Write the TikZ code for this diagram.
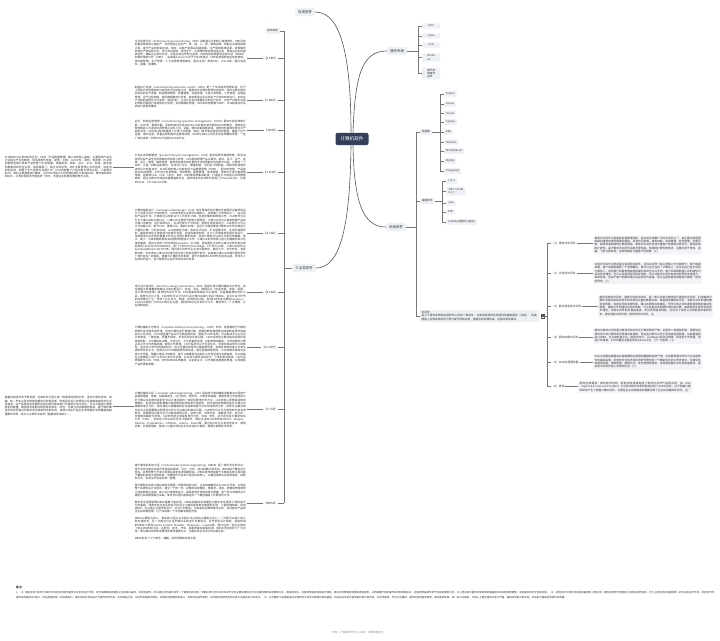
\documentclass[tikz,border=0pt]{standalone}
\usepackage{fontspec}
\setmainfont{Noto Sans CJK SC}
\XeTeXlinebreaklocale "zh"
\XeTeXlinebreakskip=0pt plus 0.3pt
\definecolor{rootc}{HTML}{34405A}
\definecolor{boxc}{HTML}{EDF0F4}
\definecolor{parac}{HTML}{F2F4F7}
\definecolor{linec}{HTML}{555555}
\definecolor{txtc}{HTML}{333333}
\newcommand\fpara{\fontsize{2.7}{3.3}\selectfont\sloppy}
\newcommand\pgap{\par\vspace{3.3pt}}
\tikzset{
  conn/.style={draw=linec, line width=0.6pt},
  brk/.style={draw=linec!80, line width=0.45pt},
  rootbox/.style={fill=rootc, text=white, rounded corners=2pt, inner xsep=5pt, inner ysep=4pt, font=\fontsize{4.6}{5}\selectfont},
  topic/.style={fill=boxc, text=txtc, rounded corners=1.5pt, inner xsep=3pt, inner ysep=2.6pt, font=\fontsize{3.5}{4}\selectfont},
  item/.style={fill=boxc, text=txtc, rounded corners=1pt, inner xsep=2pt, inner ysep=1.6pt, font=\fontsize{2.6}{3.1}\selectfont, align=left, anchor=west},
  tag/.style={text=txtc, inner sep=0.6pt, font=\fontsize{2.8}{3.2}\selectfont},
  para/.style={text=txtc, inner sep=1pt, font=\fpara, align=justify},
  mpara/.style={para, fill=parac, rounded corners=1pt, inner sep=1.5pt},
}
\begin{document}
\begin{tikzpicture}[x=1pt,y=-1pt]
\fill[white] (0,0) rectangle (720,640);
\useasboundingbox (0,0) rectangle (720,640);

% ---------- root and main topics ----------
\node[rootbox] (root) at (352,139) {计算机软件};
\node[topic] (app) at (305,12) {应用软件};
\node[topic] (os) at (397,51) {操作系统};
\node[topic] (sys) at (396,227) {系统软件};
\node[topic] (ind) at (304,268) {工业类软件};

\draw[conn] ([xshift=-1pt]root.north) .. controls (351,60) and (342,12) .. (app.east);
\draw[conn] ([xshift=1pt]root.north) .. controls (355,75) and (362,51) .. (os.west);
\draw[conn] ([xshift=1pt]root.south) .. controls (354,200) and (362,227) .. (sys.west);
\draw[conn] ([xshift=-1pt]root.south) .. controls (350,235) and (338,268) .. (ind.east);

% ---------- operating systems ----------
\node[item, minimum width=18pt] (dos) at (422,26) {DOS};
\node[item, minimum width=18pt] (linux) at (422,36) {Linux};
\node[item, minimum width=18pt] (unix) at (422,45) {Unix};
\node[item, minimum width=18pt] (win) at (422,57.5) {Windo\\ws};
\node[item, minimum width=18pt] (gc) at (422,73.5) {国产常\\用操作\\系统};
\coordinate (osb) at (418,51);
\draw[brk] (os.east) -- (osb);
\draw[brk] (osb |- dos) -- (osb |- gc);
\foreach \n in {dos,linux,unix,win,gc} \draw[brk] (\n.west) -- (\n.west -| osb);

% ---------- system software ----------
\node[item] (db) at (420,132) {数据库};
\node[item] (prog) at (420,201) {编程软件};
\node[mpara, anchor=west, text width=116pt, fill=boxc, align=left] (mw) at (420,316) {中间件\\是介于操作系统和应用软件之间的一类软件，它使用系统软件所提供的基础服务（功能），衔接网络上应用系统的各个部分或不同的应用，能够达到资源共享、功能共享的目的。};
\coordinate (sysb) at (416,227);
\draw[brk] (sys.east) -- (sysb);
\draw[brk] (sysb |- db) -- (sysb |- mw);
\foreach \n in {db,prog,mw} \draw[brk] (\n.west) -- (\n.west -| sysb);

% database items
\node[item] (d1) at (444,94) {Foxpro};
\node[item] (d2) at (444,104) {Access};
\node[item] (d3) at (444,113) {Oracle};
\node[item] (d4) at (444,122) {Sybase};
\node[item] (d5) at (444,132) {DB2};
\node[item] (d6) at (444,142) {Informix};
\node[item] (d7) at (444,151) {MS SqlServer};
\node[item] (d8) at (444,161) {MySQL};
\node[item] (d9) at (444,171) {Postgresql};
\coordinate (dbb) at (440,132);
\draw[brk] (db.east) -- (dbb);
\draw[brk] (dbb |- d1) -- (dbb |- d9);
\foreach \n in {d1,d2,d3,d4,d5,d6,d7,d8,d9} \draw[brk] (\n.west) -- (\n.west -| dbb);

% programming items
\node[item] (p1) at (446,181) {C/C++};
\node[item] (p2) at (446,191) {.NET（C\# VB\\C++）};
\node[item] (p3) at (446,203) {Java};
\node[item] (p4) at (446,212) {PHP};
\node[item] (p5) at (446,222) {LabView(图形化G语言)};
\coordinate (pb) at (442,201);
\draw[brk] (prog.east) -- (pb);
\draw[brk] (pb |- p1) -- (pb |- p5);
\foreach \n in {p1,p2,p3,p4,p5} \draw[brk] (\n.west) -- (\n.west -| pb);

% middleware
\node[draw=linec, line width=0.3pt, minimum width=3pt, minimum height=3.6pt, inner sep=0pt] (mwicon) at (542.5,316) {};
\draw[linec, line width=0.2pt] ([xshift=0.6pt,yshift=-0.8pt]mwicon.north west) -- ([xshift=-0.6pt,yshift=-0.8pt]mwicon.north east)
  ([xshift=0.6pt]mwicon.west) -- ([xshift=-0.6pt]mwicon.east);
\coordinate (mwb) at (547,316);
\draw[brk] (mwicon.east) -- (mwb);
\node[tag, anchor=west] (m1) at (551,243) {（1）事务式中间件};
\node[tag, anchor=west] (m2) at (551,273) {（2）过程式中间件};
\node[tag, anchor=west] (m3) at (551,306) {（3）面向消息的中间件};
\node[tag, anchor=west] (m4) at (551,337) {（4）面向对象中间件};
\node[tag, anchor=west] (m5) at (551,362) {（5）Web应用服务器};
\node[tag, anchor=west] (m6) at (551,386) {（6）其他};
\draw[brk] (mwb |- m1) -- (mwb |- m6);
\foreach \n in {m1,m2,m3,m4,m5,m6} \draw[brk] (\n.west) -- (\n.west -| mwb);

\node[mpara, anchor=west, text width=106pt] (m1p) at (593,245) {事务式中间件又称事务处理管理程序，是当前应用最广泛的中间件之一，其主要功能是提供联机事务处理所需要的通信、并发访问控制、事务控制、资源管理、安全管理、负载平衡、故障恢复和其他必要的服务。事务式中间件支持大量客户进程的并发访问，具有极强的扩展性。由于事务式中间件具有可靠性高、极强的扩展性等特点，主要应用于电信、金融、飞机订票系统、证券等拥有大量客户的领域。[1]};
\node[mpara, anchor=west, text width=106pt] (m2p) at (593,273) {过程式中间件又称远程过程调用中间件。过程中间件一般从逻辑上分为两部分：客户和服务器。客户和服务器是一个逻辑概念，既可以运行在同一计算机上，也可以运行在不同的计算机上，甚至客户和服务器底层的操作系统也可以不同。客户机和服务器之间的通信可采用同步通信，也可以采用线程式异步调用。所以过程式中间件有较好的异构支持能力，简单易用，但由于客户和服务器之间采用访问连接，所以在易剪裁性和容错方面有一定的局限性。[1]};
\node[mpara, anchor=west, text width=112pt] (m3p) at (598,306) {面向消息的中间件，简称为消息中间件，是一类以消息为载体进行通信的中间件，利用高效可靠的消息机制来实现不同应用间大量的数据交换。按其通信模型的不同，消息中间件的通信模型有两类：消息队列和消息传递。通过这两种消息模型，不同应用之间的通信和网络的复杂性脱离，摆脱对不同通信协议的依赖，可以在复杂的网络环境中高可靠、高效率地实现安全的异步通信。消息中间件的非直接连接，支持多种通信规程，达到多个系统之间的数据共享和同步。面向消息中间件是一类常用的中间件。[1]};
\node[mpara, anchor=west, text width=106pt] (m4p) at (593,336) {面向对象的中间件是对象技术和分布式计算发展的产物，它提供一种通信机制，透明地在异构的分布计算环境中传递对象请求，而这些对象可以位于本地或远程机器。功能最强的是CORBA，可以跨任意平台，但是太庞大；JavaBeans较灵活简单，很适合于浏览器，但运行效率差；DCOM模型主要适合Windows平台，已广泛使用。[1]};
\node[mpara, anchor=west, text width=106pt] (m5p) at (593,362) {Web应用服务器是Web服务器和应用服务器相结合的产物。应用服务器中间件可以说是软件的基础设施，利用构件化技术将应用软件整合到一个确定的协同工作环境中，并提供多种通信机制、事务管理、数据访问、安全管理等服务。应用服务器中间件发展速度快，是目前中间件市场上竞争的热点。[1]};
\node[mpara, anchor=west, text width=111pt] (m6p) at (578,387) {新的应用需求、新的技术创新、新的应用领域促成了新的中间件产品的出现。如：ASP（Application Service Provider）平台和中间件技术的结合出现了ASP中间件，对于网格计算的研究产生了网格计算中间件，为满足企业应用集成的需要出现了企业应用集成中间件。[1]};
\foreach \n in {m1,m2,m3,m4,m5,m6} \draw[brk] (\n.east) -- (\n.east -| \n p.west);

% ---------- industrial software (left) ----------
\node[item, anchor=east] (ios) at (280,31) {操作系统};
\node[tag, anchor=east] (erp) at (278,58) {【1.ERP】};
\node[tag, anchor=east] (mes) at (278,100) {【2.MES】};
\node[tag, anchor=east] (mom) at (278,130) {【MOM】};
\node[tag, anchor=east] (plm) at (278,172) {【3.PLM】};
\node[tag, anchor=east] (cad) at (278,233) {【4.CAD】};
\node[tag, anchor=east] (eda) at (278,292) {【5.EDA】};
\node[tag, anchor=east] (capp) at (278,347) {【6.CAPP】};
\node[tag, anchor=east] (cae) at (278,409) {【7.CAE】};
\node[tag, anchor=east] (mbse) at (278,503) {【MBSE】};
\coordinate (lb) at (284,268);
\draw[brk, line width=0.7pt] (ind.west) -- (lb);
\draw[brk, line width=0.7pt] (lb |- ios) -- (lb |- mbse);
\foreach \n in {ios,erp,mes,mom,plm,cad,eda,capp,cae,mbse} \draw[brk] (\n.east) -- (\n.east -| lb);

\node[para, anchor=east, text width=111pt] (erpP) at (247,53) {企业资源计划（enterprise resource planning，ERP）是制造企业的核心管理软件。ERP系统的基本思想是以销定产，协同管控企业的产、供、销、人、财、物等资源，帮助企业按照销售订单，基于产品的制造BOM、库存、设备产能和采购提前期、生产提前期等因素，来准确地安排生产和采购计划，进行及时采购、及时生产，从而降低库存和资金占用，帮助企业实现高效运作，确保企业按时交货，实现业务运作的可追溯。ERP的前身是制造资源计划（MRPII）和物料需求计划（MRP），由美国Gartner公司于1990年提出。ERP系统通常包括财务管理、供应链管理、生产管理、人力资源管理等模块，国际主流厂商有SAP、Oracle等，国内有用友、金蝶、浪潮等。};
\node[para, anchor=east, text width=111pt] (mesP) at (247,97) {制造执行系统（manufacturing execution system，MES）是一个车间级的管理系统，位于上层的计划管理系统与底层的工业控制之间，是面向车间层的管理信息系统。MES主要功能包括车间的生产调度、制造数据管理、质量管理、设备管理、工具工装管理、人员管理、在制品管理、生产过程控制、底层数据集成分析等，能够帮助企业实现生产计划的有效执行，实现生产过程的透明化与可追溯。通过MES，企业可以实时掌握车间的生产状况，对生产过程中出现的异常问题进行快速响应与处理，实现精细化管理。MES的实施需要与ERP、PLM和自动化系统进行紧密的集成。};
\node[para, anchor=east, text width=111pt] (momP) at (247,130) {此外，制造运营管理（manufacturing operation management，MOM）是MES的延伸和扩展。2000年，美国仪器、系统和自动化协会在ISA-95标准中首次提出MOM的概念，将制造运营管理定义为通过协调管理企业的人员、设备、物料和能源等资源，把原材料或零件转化为产品的活动。MOM在MES的基础上扩展了对质量、库存、维护等运营活动的管理，覆盖了生产运营、维护运营、质量运营和库存运营等领域。MOM与MES之间并不存在明确的界限，一些厂商也将新一代的MES产品称为MOM平台。};
\node[para, anchor=east, text width=111pt] (plmP) at (247,169) {产品生命周期管理（product lifecycle management，PLM）是实现研发数据管理、研发流程优化和产品全生命周期协同的核心软件。PLM是指管理产品从需求、规划、设计、生产、经销、运行、使用、维修保养，直到回收再利用处置的全生命周期中的信息与过程。它既是一门技术，又是一种制造的理念，支持并行设计、敏捷制造、协同设计和制造、网络化制造等先进的设计制造技术。PLM系统的核心功能包括产品数据管理（PDM）、图文档管理、产品结构与BOM管理、工作流与变更管理、项目管理、配置管理、需求管理、零部件分类与重用管理等，能够将CAD、CAE、CAPP、ERP、MES等系统集成起来，打通设计与制造之间的数据链条，是企业数字化转型的重要基础平台。国际知名的PLM软件有西门子Teamcenter、达索ENOVIA、PTC Windchill等。};
\node[para, anchor=east, text width=107pt] (plmX) at (113,167) {PLM和PDM以及ERP的区别：PDM（产品数据管理）是PLM的核心基础，主要管理产品设计过程中产生的数据，包括零部件信息、配置、文档、CAD文件、结构、权限等；PLM则把管理范围扩展到产品的整个生命周期，涵盖需求、规划、设计、工艺、制造、服务直到报废回收的全过程，强调跨部门、跨企业的协同。ERP主要管理企业的物流、资金流和信息流，侧重于生产经营与资源计划；PLM则侧重于产品创新与研发过程。二者通过BOM、物料主数据等进行集成，设计BOM经过工艺处理后转化为制造BOM，再传递给ERP和MES，从而实现研发与制造的一体化，支撑企业构建完整的数字主线。};
\node[para, anchor=east, text width=111pt] (cadP) at (247,235) {计算机辅助设计（computer aided design，CAD）软件是指利用计算机及其图形设备帮助设计人员进行设计工作的软件。CAD软件是工业软件中最核心、应用最广泛的类别之一，在工程和产品设计中，计算机可以帮助设计人员担负计算、信息存储和制图等工作。CAD软件可以分为二维CAD和三维CAD，二维CAD主要用于绘制工程图纸，三维CAD则可以直接构建产品的三维几何模型，进行装配设计、运动仿真与干涉检查。按照应用领域划分，CAD软件又可以分为机械CAD、电气CAD、建筑CAD、服装CAD等。在设计中通常要用计算机对不同方案进行大量的计算、分析和比较，以决定最优方案；各种设计信息，不论是数字的、文字的或图形的，都能存放在计算机的内存或外存里，并能快速地检索；设计人员通常用草图开始设计，将草图变为工作图的繁重工作可以交给计算机完成；利用计算机可以进行与图形的编辑、放大、缩小、平移和旋转等有关的图形数据加工工作。三维CAD软件的核心是几何建模内核与约束求解器，国际主流的几何内核有Parasolid、ACIS等。目前国际主流的三维CAD软件有达索系统的CATIA与SOLIDWORKS、西门子的NX与Solid Edge、PTC的Creo等，二维CAD软件以Autodesk的AutoCAD为代表。国内的CAD软件企业有中望软件、数码大方、华天软件、浩辰软件等，近年来在二维CAD领域已经实现了较好的国产替代，在高端三维CAD领域与国际领先厂商仍存在一定差距。随着云计算技术的发展，基于云架构的CAD软件也逐渐兴起，支持多人在线协同设计，设计数据可以在不同地点实时共享。};
\node[para, anchor=east, text width=111pt] (edaP) at (247,296) {电子设计自动化（electronic design automation，EDA）是指利用计算机辅助设计软件，来完成超大规模集成电路芯片的功能设计、综合、验证、物理设计（包括布局、布线、版图、设计规则检查等）等流程的设计方式。EDA是集成电路设计必需的、也是最重要的软件工具，被誉为芯片之母。EDA软件可以分为芯片设计类EDA和PCB设计类EDA，在芯片设计环节的应用最为广泛，贯穿了芯片设计、制造、封测的全过程。全球EDA市场主要由Synopsys、Cadence和西门子EDA三家企业占据，国内的EDA企业有华大九天、概伦电子、广立微等，正在加快追赶。};
\node[para, anchor=east, text width=111pt] (cappP) at (247,346) {计算机辅助工艺规划（computer aided process planning，CAPP）软件，是指借助于计算机软硬件技术和支撑环境，利用计算机进行数值计算、逻辑判断和推理等功能来制定零件机械加工工艺过程。CAPP是连接产品设计与制造的桥梁，借助于CAPP系统，可以解决手工工艺设计效率低、一致性差、质量不稳定、不易达到优化等问题。CAPP系统的主要功能包括零件信息的获取、工艺路线的决策、工序设计、工艺装备的选择、切削参数的确定、工时定额的计算以及工艺文件的输出等。按照工作原理，CAPP系统可以分为派生式、创成式和综合式三种类型，派生式CAPP利用成组技术，将工艺相似的零件汇集成零件族，检索并修改标准工艺来生成新零件的工艺；创成式CAPP则根据零件的信息，通过逻辑推理规则、公式和算法等自动生成工艺规程。随着三维设计的普及，基于三维模型的结构化工艺逐渐成为发展趋势，可以直接在三维模型上进行工艺设计和工艺仿真，并生成三维作业指导书，下发到车间现场。CAPP系统需要与CAD、PDM、ERP和MES系统集成，以实现设计、工艺和制造数据的贯通，从而缩短产品的研制周期。};
\node[para, anchor=east, text width=111pt] (caeP) at (247,410) {计算机辅助工程（computer aided engineering，CAE）是指用计算机辅助求解复杂工程和产品结构强度、刚度、屈曲稳定性、动力响应、热传导、三维多体接触、弹塑性等力学性能的分析计算以及结构性能的优化设计等问题的一种近似数值分析方法。CAE的核心思想是结构的离散化，即将实际结构离散为有限数目的规则单元组合体，实际结构的物理性能可以通过对离散体进行分析，得出满足工程精度的近似结果来替代对实际结构的分析，这样可以解决很多实际工程需要解决而理论分析又无法解决的复杂问题。CAE软件可以分为通用软件和专用软件，按照研究对象可以分为静态结构分析、动态分析、流体分析、电磁场分析、热分析、多物理场耦合分析等。CAE软件的主体是有限元分析（FEA）软件，此外还包括计算流体动力学（CFD）、多体动力学以及优化设计等软件。国际主流的CAE软件有ANSYS、Abaqus、Nastran、HyperWorks、COMSOL、Adams、Fluent等，国内的CAE企业有安世亚太、英特仿真、云道智造等，整体上与国外领先企业仍存在较大差距，需要长期的技术积累。};
\node[para, anchor=east, text width=107pt] (caeX) at (113,406) {随着仿真技术的不断发展，仿真软件已经从单一物理场的结构分析，逐步扩展到流体、电磁、热、声学以及多物理场耦合分析等领域。仿真驱动设计的理念正在被越来越多的企业所接受，在产品研发的早期阶段就利用仿真来进行方案的评估与优化，可以大幅减少物理样机的数量，缩短研发周期并降低研发成本。同时，仿真与测试数据的融合、基于降阶模型的系统仿真以及数字孪生等新技术的应用，使得CAE在产品全生命周期中发挥着越来越重要的作用，成为工业软件中技术门槛最高的领域之一。};
\node[para, anchor=east, text width=111pt] (mbseP) at (247,502) {基于模型的系统工程（model-based systems engineering，MBSE）是一种形式化的方法，用于支持与复杂系统开发相关的需求、设计、分析、验证和确认等活动。MBSE始于概念设计阶段，并贯穿整个开发过程和后续的生命周期阶段。MBSE是传统的基于文档的系统工程向基于模型的系统工程的转变，将模型作为系统工程活动的核心，以模型来表达系统的需求、结构和行为，实现设计信息的统一管理。\pgap
基于模型的系统工程应用的范围是一项跨领域的工作，以系统建模语言SysML为代表，从而在整个系统的设计过程中，建立一个统一的、完整的系统模型，使需求、功能、逻辑和物理架构之间能够相互追溯，减少设计错误和返工，提高系统开发的效率与质量。各个专业领域的设计模型与系统模型相互关联，使多学科团队能够在同一个模型基础上开展协同工作。\pgap
数字孪生需要依靠MBSE建模才能实现，MBSE构建的系统模型为数字孪生提供了结构和行为的基础，而数字孪生在系统运行阶段又为模型提供真实数据的反馈，二者相辅相成。利用MBSE，可以建立从需求到设计、从设计到制造、从制造到运维的数字主线，支持复杂产品的全生命周期管理，让产品的每一个状态都有模型可依。\pgap
MBSE以模型为核心，使系统工程从以文档为中心转向以模型为中心，一方面可以减少歧义和沟通成本；另一方面也可以在早期对系统进行仿真验证，及早发现设计缺陷。目前常用的MBSE工具有Cameo Systems Modeler、Rhapsody、Capella等，国内也有一些企业推出了自主的MBSE平台。在航空、航天、汽车、船舶等复杂装备领域，MBSE已经得到了广泛应用，成为推动系统研发模式变革的重要方法，也是实现正向设计的关键手段。\pgap
MBSE包含了三个概念：建模、系统思维和系统工程。};

\foreach \n in {erp,mes,mom,plm,cad,eda,capp,cae,mbse} \draw[brk] (\n.west) -- (\n.west -| \n P.east);
\draw[brk] (plmX.east) -- (plmX.east -| plmP.west);
\draw[brk] (caeX.east) -- (caeX.east -| caeP.west);

% ---------- notes ----------
\node[anchor=north west, inner sep=0pt, text=txtc, font=\fontsize{2.8}{3.2}\selectfont\bfseries] (notet) at (16,586) {备注:};
\node[anchor=north west, inner sep=0pt, text=txtc, text width=698pt, align=justify, font=\fontsize{2.5}{5.6}\selectfont] (notes) at (16,591) {1. （1）通信支持 中间件为其所支持的应用软件提供平台化的运行环境，该环境屏蔽底层通信之间的接口差异，实现互操作，所以通信支持是中间件一个最基本的功能。早期应用与分布式的中间件交互主要的通信方式为远程调用和消息两种方式。通信模块中，远程调用通过网络进行通信，通过支持数据的转换和通信服务，从而屏蔽不同的操作系统和网络协议。远程调用是提供给予过程的服务访问，为上层系统只提供非常简单的编程接口或过程调用模型。消息提供异步交互的机制。（2）应用支持 中间件的目的就是服务上层应用，提供应用层不同服务之间的互操作机制。它为上层应用开发提供统一的平台和运行环境，并封装不同操作系统提供API接口，向应用提供统一的标准接口，使应用的开发和运行与操作系统无关，实现其独立性。中间件松耦合的结构，标准的封装服务和接口，有效的互操作机制，从而给应用结构化和开发方法提供有力的支持。（3）公共服务 公共服务是对应用软件中共性功能或约束的提取。将这些共性的功能或者约束分类实现，并支持复用，作为公共服务，提供给应用程序使用。通过提供标准、统一的公共服务，可减少上层应用的开发工作量，缩短应用的开发时间，并有助于提高应用软件的质量。};
\node[text=black!45, inner sep=0pt, font=\fontsize{2.6}{3}\selectfont] (footer) at (358,633) {作者：计算机软件学习 \textbar{} 来源：思维导图社区};
\end{tikzpicture}
\end{document}
